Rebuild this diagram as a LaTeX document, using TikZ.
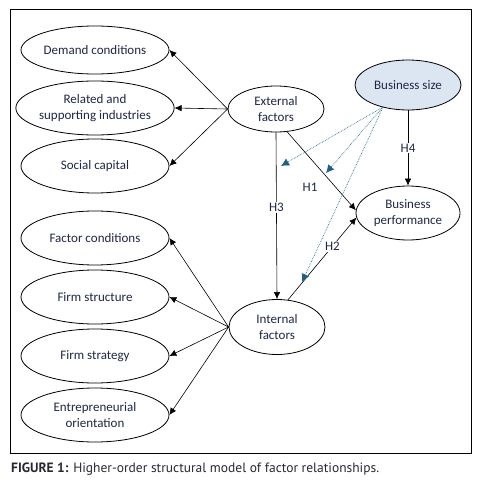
\documentclass[tikz,border=0pt]{standalone}
\usepackage{fontspec}
\setmainfont{Carlito}
\newfontfamily\capfont{PT Sans}
\usetikzlibrary{shapes.geometric,arrows.meta}
\definecolor{txt}{RGB}{30,40,70}
\definecolor{teal}{RGB}{47,110,140}
\definecolor{tealtip}{RGB}{31,95,127}
\definecolor{sizefill}{RGB}{220,230,243}
\begin{document}
\begin{tikzpicture}[x=1pt,y=-1pt,
  every node/.style={text=txt,font=\fontsize{13}{15.5}\selectfont},
  oval/.style={ellipse,draw=black,line width=0.8pt,inner sep=0pt,align=center,fill=white},
  leftoval/.style={oval,minimum width=148pt,minimum height=54pt},
  arr/.style={draw=black,line width=0.6pt,-{Latex[length=7pt,width=6.5pt]}},
  dot/.style={draw=teal,line width=0.7pt,densely dotted,-{Latex[length=8pt,width=8pt,fill=tealtip,color=tealtip]}},
  hlab/.style={fill=white,inner sep=1pt}
]
\useasboundingbox (0,0) rectangle (478,487);
\draw[line width=1pt] (10,10) rectangle (471,453);
% left column
\node[leftoval,minimum height=48pt] (dem) at (95,50) {Demand conditions};
\node[leftoval] (rel) at (95,108) {Related and\\supporting industries};
\node[leftoval] (soc) at (95,166) {Social capital};
\node[leftoval] (fac) at (95,238) {Factor conditions};
\node[leftoval] (fst) at (95,297) {Firm structure};
\node[leftoval] (fsg) at (95,356) {Firm strategy};
\node[leftoval] (ent) at (95,415) {Entrepreneurial\\orientation};
% middle
\node[oval,minimum width=96pt,minimum height=46pt] (ext) at (276,109) {External\\factors};
\node[oval,minimum width=96pt,minimum height=55pt] (intf) at (277,327) {Internal\\factors};
% right
\node[oval,fill=sizefill,minimum width=106pt,minimum height=50pt] (bsz) at (408,85) {Business size};
\node[oval,minimum width=104pt,minimum height=54pt] (bpf) at (408,213) {Business\\performance};
% first-order arrows
\foreach \t in {dem,rel,soc} \draw[arr] (ext.west) -- (\t.east);
\foreach \t in {fac,fst,fsg,ent} \draw[arr] (intf.west) -- (\t.east);
% hypotheses
\draw[arr] (ext.south) -- node[hlab,pos=0.45] {H3} (intf.north);
\draw[arr] (ext.-64) -- (bpf.177);
\node (h1) at (310,187) {H1};
\draw[arr] (intf.68) -- node[hlab,pos=0.65] {H2} (bpf.185);
\draw[arr] (bsz.south) -- node[hlab] {H4} (bpf.north);
% moderation
\coordinate (src) at (383,107);
\coordinate (m1) at (281,166);
\coordinate (m2) at (326,173);
\coordinate (m3) at (302,282);
\draw[dot] (src) -- (m1);
\draw[dot] (src) -- (m2);
\draw[dot] (src) -- (m3);
% caption
\node[anchor=west,inner sep=0pt,text={rgb,255:red,40;green,40;blue,50},font=\capfont\fontsize{13.5}{15}\selectfont] (cap) at (11,469) {\textbf{FIGURE 1:} Higher-order structural model of factor relationships.};
\end{tikzpicture}
\end{document}
